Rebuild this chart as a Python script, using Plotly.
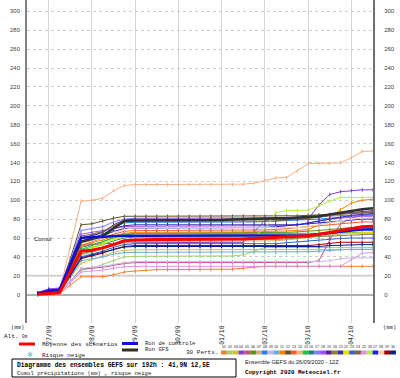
import plotly.graph_objects as go
import pandas as pd

# ---------------- data ----------------
RUN_START = "2020-09-26 12:00"
LEAD_HOURS = [6, 12, 18, 24, 30, 36, 42, 48,
              54, 60, 66, 72, 78, 84, 90, 96,
              102, 108, 114, 120, 126, 132, 138, 144,
              150, 156, 162, 168, 174, 180, 186, 192]
DAY_TICKS = ["2020-09-27", "2020-09-28", "2020-09-29", "2020-09-30",
             "2020-10-01", "2020-10-02", "2020-10-03", "2020-10-04"]
DAY_LABELS = ["27/09", "28/09", "29/09", "30/09", "01/10", "02/10", "03/10", "04/10"]
Y_TICKS = [0, 20, 40, 60, 80, 100, 120, 140, 160, 180, 200, 220, 240, 260, 280, 300]

pert01 = [0, 1, 1, 10, 19, 19, 19, 21,
          24, 25, 26, 26.5, 26.5, 26.5, 26.5, 26.5,
          26.5, 26.5, 27, 28, 29, 30, 30, 30,
          30, 30, 30, 30, 30, 30, 30, 30]
pert02 = [1, 2, 2, 14, 26, 28, 32, 36,
          40, 40.6, 40.6, 40.6, 40.6, 40.6, 40.6, 40.6,
          40.6, 40.6, 41, 42, 46, 50, 50, 50,
          50, 50, 50, 50, 50, 50, 50, 50]
pert03 = [0, 2, 3, 18, 33, 37, 41, 45,
          47, 47.6, 47.6, 47.6, 47.6, 47.6, 47.6, 47.6,
          47.6, 47.6, 47.6, 47.6, 47.6, 47.6, 47.6, 47.6,
          47.6, 47.6, 47.6, 48, 48, 48, 48, 48]
pert04 = [2, 6, 6, 30, 52, 53, 54, 54,
          55, 55, 55, 55, 55, 55, 55, 55,
          55, 55, 55, 55.5, 66, 79, 80, 80,
          80, 80, 95, 106, 109, 110, 111, 111]
pert05 = [1, 3, 3, 14, 27, 28, 29, 31,
          33, 34, 34, 34, 34, 34, 34, 34,
          34, 34, 34, 34, 34, 34, 34, 34,
          34, 34, 36, 58, 75, 81, 84, 85]
pert06 = [1, 2, 3, 26, 50, 53, 56, 61,
          64, 65, 65.3, 65.3, 65.3, 65.3, 65.3, 65.3,
          65.3, 65.3, 65.3, 65.3, 65.5, 66, 66, 66,
          66.5, 67, 68, 69, 70, 71, 72, 72]
pert07 = [0, 1, 2, 22, 42, 45, 48, 52,
          55, 56, 56.4, 56.4, 56.4, 56.4, 56.4, 56.4,
          56.4, 56.4, 56.4, 56.4, 56.4, 56.4, 57, 58,
          59, 61, 62, 63, 64, 65, 65, 65]
pert08 = [2, 5, 5, 32, 60, 63, 66, 72,
          76, 76.6, 76.6, 76.6, 76.6, 76.6, 76.6, 76.6,
          76.6, 76.6, 76.6, 77, 77, 77.5, 78, 78,
          78.5, 79, 80, 81, 82, 83, 84, 84]
pert09 = [0, 1, 2, 14, 28, 29, 30, 32,
          34, 35, 35, 35, 35, 35, 35, 35,
          35, 35, 35, 35, 35, 35, 35, 35,
          35, 35, 35, 36, 38, 39, 39, 39]
pert10 = [1, 2, 2, 18, 36, 38, 40, 43,
          44.5, 44.8, 44.8, 44.8, 44.8, 44.8, 44.8, 44.8,
          44.8, 44.8, 44.8, 44.8, 44.8, 44.8, 44.8, 45,
          45, 45.5, 46, 47, 47.5, 48, 48, 48]
pert11 = [1, 3, 4, 28, 52, 55, 58, 62,
          65, 66, 66, 66, 66, 66, 66, 66,
          66, 66, 66, 66, 66.5, 67, 67, 67.5,
          68, 69, 74, 82, 90, 97, 100, 101]
pert12 = [2, 4, 5, 38, 74, 75, 78, 81,
          83, 83, 83, 83, 83, 83, 83, 83,
          83, 83, 83, 83, 83, 83, 83, 83,
          83.5, 84, 84.5, 85, 86, 86.5, 87, 87]
pert13 = [1, 3, 3, 27, 52, 56, 60, 64,
          67, 68, 68, 68, 68, 68, 68, 68,
          68, 68, 68, 68, 68, 68.5, 69, 70,
          71, 72, 73, 74, 75, 76, 77, 77]
pert14 = [0, 1, 3, 50, 99, 100, 102, 110,
          115.6, 116.5, 116.5, 116.5, 116.5, 116.5, 116.5, 116.5,
          116.5, 116.5, 116.5, 117, 118, 121, 123.5, 124,
          131, 138.7, 139, 139, 139.5, 145, 151.7, 152]
pert15 = [0, 2, 3, 24, 48, 52, 56, 60,
          63, 64.6, 64.6, 64.6, 64.6, 64.6, 64.6, 64.6,
          64.6, 64.6, 64.6, 64.6, 64.6, 64.6, 64.6, 64.6,
          64.6, 64.6, 65, 65, 65.5, 66, 66, 66]
pert16 = [1, 2, 3, 25, 47, 50, 53, 57,
          60, 61, 61, 61, 61, 61, 61, 61,
          61, 61, 61, 61, 61, 61, 61, 61,
          61, 62, 63, 65, 67, 68, 69, 70]
pert17 = [2, 6, 7, 36, 68, 70, 72, 77,
          80, 81, 81, 81, 81, 81, 81, 81,
          81, 81, 81, 81, 81, 81, 81, 81.5,
          82, 82.5, 83, 83.5, 84, 84.5, 85, 85]
pert18 = [2, 6, 7, 34, 64, 66, 68, 70,
          72, 72.4, 72.4, 72.4, 72.4, 72.4, 72.4, 72.4,
          72.4, 72.4, 72.4, 72.4, 72.4, 72.4, 72.4, 73,
          74, 76, 78, 80, 81, 82, 83, 83]
pert19 = [1, 4, 5, 32, 60, 62, 66, 74,
          79, 80, 80, 80, 80, 80, 80, 80,
          80, 80, 80, 80, 80, 80, 80, 80,
          80, 81, 82, 84, 86, 87, 88, 89]
pert20 = [0, 1, 2, 22, 43, 46, 50, 54,
          57, 58, 58, 58, 58, 58, 58, 58,
          58, 58, 58, 58, 58, 58, 58.5, 59,
          60, 61, 61.5, 62, 62.5, 63, 64, 64]
pert21 = [1, 3, 4, 30, 57, 60, 64, 70,
          73, 74, 74, 74, 74, 74, 74, 74,
          74, 74, 74, 74, 74, 74, 74, 74,
          74, 76, 78, 80, 82, 84, 85, 86]
pert22 = [1, 2, 3, 24, 46, 50, 54, 59,
          62, 63, 63, 63, 63, 63, 63, 63,
          63, 63, 63, 63, 63, 63, 63, 63,
          63, 63, 64, 64.5, 65, 65.5, 66, 66]
pert23 = [1, 2, 3, 21, 40, 43, 46, 50,
          53, 54, 54, 54, 54, 54, 54, 54,
          54, 54, 54, 54, 54, 54, 54, 55,
          56, 57, 58, 59, 59.5, 60, 60, 60]
pert24 = [2, 4, 5, 34, 62, 64, 67, 73,
          77, 78, 78, 78, 78, 78, 78, 78,
          78, 78, 78, 78, 78, 78, 78, 79,
          80, 81, 82, 84, 85, 86, 87, 88]
pert25 = [0, 1, 2, 12, 24, 25, 26, 28,
          29.5, 30, 30, 30, 30, 30, 30, 30,
          30, 30, 30, 30, 30, 30, 30, 30,
          30, 30, 30, 30, 30, 37, 44, 44.5]
pert26 = [1, 2, 3, 24, 46, 49, 53, 58,
          61, 62, 62, 62, 62, 62, 62, 62,
          62, 62, 62, 62, 62, 70, 87, 89,
          89, 89.5, 94, 99, 103, 103, 103, 103]
pert27 = [2, 5, 6, 30, 56, 59, 62, 67,
          70, 70.6, 70.6, 70.6, 70.6, 70.6, 70.6, 70.6,
          70.6, 70.6, 70.6, 70.6, 70.6, 71, 72, 73,
          74, 75, 76, 77, 78, 79, 80, 80]
pert28 = [0, 1, 2, 28, 54, 57, 60, 65,
          69, 71, 71, 71, 71, 71, 71, 71,
          71, 71, 71, 71, 71, 71, 71, 71,
          71, 72, 74, 76, 78, 80, 81, 82]
pert29 = [1, 2, 3, 20, 38, 41, 44, 48,
          51, 52, 52, 52, 52, 52, 52, 52,
          52, 52, 52, 52, 52, 52, 52, 52,
          52, 52, 53, 54, 55.5, 55.5, 55.5, 55.5]
pert30 = [1, 2, 3, 20, 39, 42, 45, 48,
          50.5, 51, 51, 51, 51, 51, 51, 51,
          51, 51, 51, 51, 51, 51, 51, 51,
          51, 51, 51, 52, 52.5, 53, 53, 53]

mean_run = [0.5, 1.5, 2, 24, 46, 47, 49.5, 53,
            57, 58, 58.5, 58.5, 58.5, 58.5, 58.5, 58.5,
            58.5, 58.5, 58.5, 59, 59.5, 60, 60.5, 61,
            61.5, 62.5, 64, 66, 68, 70, 72, 72.5]
control_run = [1, 4, 5, 32, 60, 61, 61, 62,
               62.5, 62.5, 62.5, 62.5, 62.5, 62.5, 62.5, 62.5,
               62.5, 62.5, 62.5, 62.5, 62.5, 62.5, 62.5, 62.5,
               62.5, 63, 64, 65.5, 67, 68, 69, 69]
gfs_run = [1, 3, 4, 30, 56, 59, 62, 70,
           78, 78.5, 78.5, 78.5, 78.5, 78.5, 78.5, 78.5,
           78.5, 79, 79.5, 80, 80.5, 81, 81, 81,
           81.5, 82, 83, 85, 87, 89, 90.5, 91.5]

PERTS = [pert01, pert02, pert03, pert04, pert05, pert06, pert07, pert08, pert09, pert10,
         pert11, pert12, pert13, pert14, pert15, pert16, pert17, pert18, pert19, pert20,
         pert21, pert22, pert23, pert24, pert25, pert26, pert27, pert28, pert29, pert30]
PERT_NAMES = ["%02d" % (i + 1) for i in range(30)]

# ---------------- style ----------------
PERT_COLORS = ["#f08030", "#a0d070", "#d4c040", "#8040c8", "#c05080", "#609020",
               "#d0b080", "#2080f0", "#c8b8e8", "#60b0e0", "#ff8000", "#605030",
               "#f06030", "#f8b080", "#20c040", "#208080", "#8080f0", "#a050f0",
               "#602090", "#8c8040", "#4030a0", "#e8e000", "#4060c0", "#806040",
               "#e090e0", "#b0f040", "#2020e0", "#f0d0b0", "#a00000", "#002090"]

W, H = 400, 378
L, R, T, B = 27, 27, 0, 55
PW, PH = W - L - R, H - T - B


def PX(x):
    return (x - L) / PW


def PY(y):
    return (T + PH - y) / PH


times = pd.Timestamp(RUN_START) + pd.to_timedelta(LEAD_HOURS, unit="h")

fig = go.Figure()
for name, vals, col in zip(PERT_NAMES, PERTS, PERT_COLORS):
    fig.add_trace(go.Scatter(x=times, y=vals, mode="lines+markers", name=name,
                             line=dict(color=col, width=1),
                             marker=dict(symbol="line-ns", size=2.5,
                                         line=dict(color=col, width=1)),
                             showlegend=False))

fig.add_trace(go.Scatter(x=times, y=gfs_run, mode="lines", name="Run GFS",
                         line=dict(color="#303030", width=2.5), showlegend=False))
fig.add_trace(go.Scatter(x=times, y=control_run, mode="lines", name="Run de controle",
                         line=dict(color="#1010d8", width=2.5), showlegend=False))
fig.add_trace(go.Scatter(x=times, y=mean_run, mode="lines", name="Moyenne",
                         line=dict(color="#ff0000", width=3), showlegend=False))
# right axis companion (invisible)
fig.add_trace(go.Scatter(x=times, y=mean_run, mode="lines", yaxis="y2",
                         line=dict(width=0), opacity=0, hoverinfo="skip",
                         showlegend=False))

YR = [-30, 312]
tickfont = dict(family="Liberation Sans", size=6, color="#404040")

fig.update_layout(
    width=W, height=H,
    margin=dict(l=L, r=R, t=T, b=B),
    paper_bgcolor="white", plot_bgcolor="white",
    xaxis=dict(type="date", range=["2020-09-26 12:00", "2020-10-04 12:00"],
               tickvals=DAY_TICKS, ticktext=DAY_LABELS, tickangle=-90,
               tickfont=dict(family="DejaVu Sans Mono", size=6.5, color="#303030"),
               showgrid=True, gridcolor="#d6d6d6", gridwidth=1,
               showline=False, zeroline=False, ticks="", automargin=False,
               ticklabelstandoff=0),
    yaxis=dict(range=YR, tickvals=Y_TICKS, tickfont=tickfont,
               showgrid=True, gridcolor="#cccccc", griddash="dot", gridwidth=1,
               zeroline=True, zerolinecolor="#b0b0b0", zerolinewidth=2,
               showline=True, linecolor="#808080", linewidth=1.5,
               ticks="", automargin=False, ticklabelstandoff=4),
    yaxis2=dict(range=YR, tickvals=Y_TICKS, tickfont=tickfont, overlaying="y",
                side="right", showgrid=False, zeroline=False,
                showline=True, linecolor="#707070", linewidth=2,
                ticks="", automargin=False, ticklabelstandoff=8),
)

shapes = []
# thicker reference line at 20
shapes.append(dict(type="line", xref="paper", yref="y", x0=0, x1=1, y0=20, y1=20,
                   line=dict(color="#d4d4d4", width=2), layer="below"))


def hline(x0, x1, y, color, width):
    shapes.append(dict(type="line", xref="paper", yref="paper",
                       x0=PX(x0), x1=PX(x1), y0=PY(y), y1=PY(y),
                       line=dict(color=color, width=width)))


hline(19, 35, 344, "#ff0000", 3)
hline(122, 138, 343.5, "#1010d8", 3)
hline(122, 138, 350, "#303030", 3)

# perturbation swatches
sw0, sw = 221.0, 5.83
for i, col in enumerate(PERT_COLORS):
    shapes.append(dict(type="rect", xref="paper", yref="paper",
                       x0=PX(sw0 + i * sw), x1=PX(sw0 + (i + 1) * sw),
                       y0=PY(354.5), y1=PY(350.5), line=dict(width=0), fillcolor=col))

# caption box
shapes.append(dict(type="rect", xref="paper", yref="paper",
                   x0=PX(12), x1=PX(236), y0=PY(377), y1=PY(359),
                   line=dict(color="#000000", width=1), fillcolor="white"))
fig.update_layout(shapes=shapes)

ann = []


def text(x, y, s, size=6, family="Liberation Mono", color="#202020", anchor="left"):
    ann.append(dict(xref="paper", yref="paper", x=PX(x), y=PY(y), text=s,
                    showarrow=False, xanchor=anchor, yanchor="middle",
                    font=dict(family=family, size=size, color=color)))


text(32, 239, "Cumul", size=6, family="Liberation Sans")
text(17, 327, "(mm)", size=5.5, family="Liberation Mono", anchor="center")
text(389, 327, "(mm)", size=5.5, family="Liberation Mono", anchor="center")
text(2, 336, "Alt. <span style='font-size:4.5px'>0m</span>", size=6)
text(40, 344, "Moyenne des scénarios", size=6)
text(143, 343.3, "Run de controle", size=5.6)
text(143, 349.7, "Run GFS", size=5.6)
text(30, 355, "❄", size=7, family="DejaVu Sans", color="#40b0c0", anchor="center")
text(40, 355, "Risque neige", size=6)
text(184, 352.5, "30 Perts.", size=6)
for i, nm in enumerate(PERT_NAMES):
    text(sw0 + (i + 0.5) * sw, 347, nm, size=3.6, family="Liberation Sans", anchor="center")
text(15, 365, "<b>Diagramme des ensembles GEFS sur 192h : 41,9N 12,5E</b>", size=6.3,
     color="#000000")
text(15, 373.3, "Cumul précipitations (mm) , risque neige", size=5.6)
text(243, 361.5, "Ensemble GEFS du 26/09/2020 - 12Z", size=5.6, family="Liberation Sans")
text(243, 372.5, "<b>Copyright 2020 Meteociel.fr</b>", size=5.9, color="#000000")

fig.update_layout(annotations=ann)
fig.write_html("out.html", config={"displayModeBar": False},
               post_script="document.body.style.margin='0';document.body.style.overflow='hidden';")
